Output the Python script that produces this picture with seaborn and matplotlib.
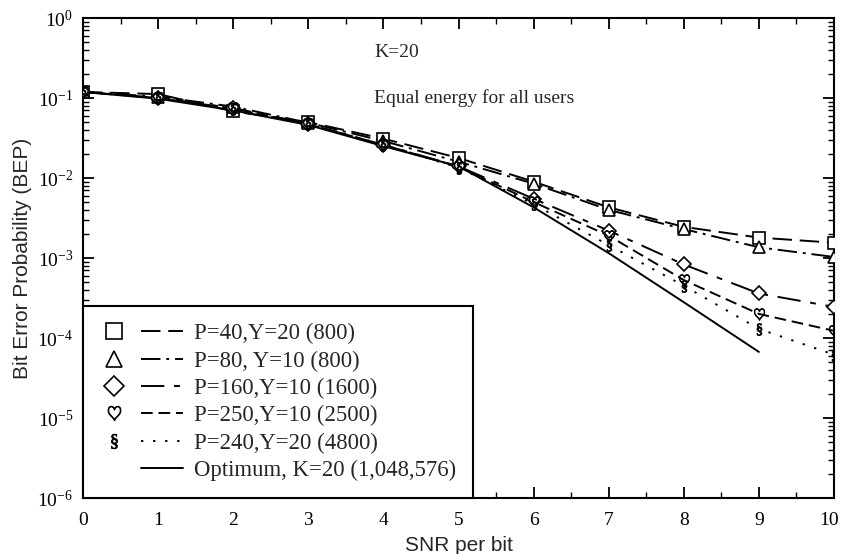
import numpy as np
import pandas as pd
import matplotlib
matplotlib.use("Agg")
import matplotlib.pyplot as plt
import matplotlib.transforms as mtrans
import seaborn as sns
from matplotlib.lines import Line2D
from matplotlib.legend_handler import HandlerBase
from matplotlib.ticker import LogLocator, FixedLocator, NullFormatter, FuncFormatter

# ---- data ----
snr = [0, 1, 2, 3, 4, 5, 6, 7, 8, 9, 10]
bep_p40 = [0.119, 0.112, 0.068, 0.050, 0.031, 0.0178, 0.0090, 0.0043, 0.00245, 0.0018, 0.00155]
bep_p80 = [0.119, 0.104, 0.078, 0.049, 0.029, 0.0160, 0.0085, 0.0040, 0.0023, 0.00136, 0.00103]
bep_p160 = [0.119, 0.100, 0.075, 0.047, 0.026, 0.0140, 0.0055, 0.0022, 0.00083, 0.00036, 0.000245]
bep_p250 = [0.119, 0.100, 0.074, 0.047, 0.026, 0.0138, 0.0050, 0.0019, 0.00053, 0.00020, 0.000123]
bep_p240 = [0.119, 0.100, 0.073, 0.047, 0.026, 0.0135, 0.0047, 0.00145, 0.00045, 0.000130, 0.000062]
snr_opt = [0, 1, 2, 3, 4, 5, 6, 7, 8, 9]
bep_opt = [0.119, 0.098, 0.070, 0.046, 0.025, 0.0140, 0.0043, 0.00115, 0.00028, 0.000067]

labels = ["P=40,Y=20 (800)", "P=80, Y=10 (800)", "P=160,Y=10 (1600)",
          "P=250,Y=10 (2500)", "P=240,Y=20 (4800)", "Optimum, K=20 (1,048,576)"]
xticks = [0, 1, 2, 3, 4, 5, 6, 7, 8, 9, 10]
yticks = [1e-6, 1e-5, 1e-4, 1e-3, 1e-2, 1e-1, 1e0]

sns.set_style("ticks")
plt.rcParams["font.family"] = ["Liberation Serif", "DejaVu Serif"]
plt.rcParams["mathtext.fontset"] = "custom"
plt.rcParams["mathtext.rm"] = "Liberation Serif"
plt.rcParams["mathtext.it"] = "Liberation Serif:italic"

fig = plt.figure(figsize=(8.42, 5.54), dpi=100)
ax = fig.add_axes([83 / 842, 1 - 498 / 554, (834 - 83) / 842, (498 - 18) / 554])

LW = 1.4
series = [
    (bep_p40, snr, "s", (10, 4), 8.5, 1.2),
    (bep_p80, snr, "^", (10, 3, 1.5, 3), 8.5, 1.2),
    (bep_p160, snr, "D", (12, 5, 3, 5), 7.5, 1.2),
    (bep_p250, snr, r"$\heartsuit$", (6, 3), 8.5, 0.6),
    (bep_p240, snr, r"$\S$", (1.2, 5), 8.5, 0.6),
    (bep_opt, snr_opt, None, None, 0, 0),
]


class Entry:
    def __init__(self, marker, ms, mew, dash):
        self.marker, self.ms, self.mew, self.dash = marker, ms, mew, dash


class EntryHandler(HandlerBase):
    def create_artists(self, legend, orig, xdescent, ydescent, width, height, fontsize, trans):
        y = height / 2 - ydescent
        arts = []
        lkw = dict(color="black", linewidth=LW)
        if orig.dash is not None:
            lkw["dashes"] = orig.dash
        ln = Line2D([0.49 * width - xdescent, width - xdescent], [y, y], **lkw)
        ln.set_transform(trans)
        arts.append(ln)
        if orig.marker is not None:
            if orig.marker.startswith("$"):
                mk = Line2D([0.17 * width - xdescent], [y], linestyle="none", marker=orig.marker,
                            markersize=orig.ms + 2, color="black", markeredgewidth=orig.mew)
            else:
                mk = Line2D([0.17 * width - xdescent], [y], linestyle="none", marker=orig.marker,
                            markersize=orig.ms + 3, markerfacecolor="white",
                            markeredgecolor="black", markeredgewidth=orig.mew)
            mk.set_transform(trans)
            arts.append(mk)
        return arts


handles = []
for (vals, xs, mk, dash, ms, mew), lab in zip(series, labels):
    df = pd.DataFrame({"snr": xs, "bep": vals})
    sns.lineplot(data=df, x="snr", y="bep", ax=ax, color="black", linewidth=LW)
    line = ax.get_lines()[-1]
    if dash is not None:
        line.set_dashes(dash)
    if mk is not None:
        if mk.startswith("$"):
            ax.plot(xs, vals, linestyle="none", marker=mk, markersize=ms,
                    color="black", markeredgewidth=mew, zorder=5)
        else:
            ax.plot(xs, vals, linestyle="none", marker=mk, markersize=ms,
                    markerfacecolor="white", markeredgecolor="black",
                    markeredgewidth=mew, zorder=5)
    handles.append(Entry(mk, ms, mew, dash))

ax.set_yscale("log")
ax.set_xlim(0, 10)
ax.set_ylim(1e-6, 1e0)

ax.xaxis.set_major_locator(FixedLocator(xticks))
ax.xaxis.set_minor_locator(FixedLocator(np.arange(0.5, 10, 1.0)))
ax.yaxis.set_major_locator(FixedLocator(yticks))
ax.yaxis.set_minor_locator(LogLocator(base=10, subs=np.arange(2, 10), numticks=20))
ax.yaxis.set_minor_formatter(NullFormatter())
ax.yaxis.set_major_formatter(FuncFormatter(
    lambda v, p: r"$\mathregular{10^{%d}}$" % int(round(np.log10(v)))))
ax.xaxis.set_major_formatter(FuncFormatter(lambda v, p: "%d" % v))

ax.tick_params(which="both", direction="in", top=True, right=True, colors="black",
               labelsize=14)
ax.tick_params(axis="x", which="major", pad=10)
ax.tick_params(axis="y", which="major", pad=7)
ax.tick_params(which="major", length=8, width=1.3)
ax.tick_params(which="minor", length=4, width=1.0)
for s in ax.spines.values():
    s.set_linewidth(1.5)
    s.set_color("black")

ax.set_xlabel("SNR per bit", fontsize=15, family=["Liberation Sans", "DejaVu Sans"], labelpad=5)
ax.set_ylabel("Bit Error Probability (BEP)", fontsize=15,
              family=["Liberation Sans", "DejaVu Sans"], labelpad=4)

ax.text(3.88, 0.37, "K=20", fontsize=14, va="center", ha="left")
ax.text(3.88, 0.10, "Equal energy for all users", fontsize=14, va="center", ha="left")

leg = ax.legend(handles, labels, handler_map={Entry: EntryHandler()},
                loc="lower left", bbox_to_anchor=(0, 0), fontsize=16.4, frameon=True,
                fancybox=False, edgecolor="black", framealpha=1, handlelength=3.64,
                handletextpad=0.48, labelspacing=0.27, borderpad=0.75, borderaxespad=0)
leg.get_frame().set_linewidth(1.5)
leg.set_zorder(10)

# nudge the last x tick label so it stays inside the figure, as in the reference
fig.canvas.draw()
last = ax.get_xticklabels()[-1]
last.set_transform(last.get_transform() + mtrans.ScaledTranslation(-5 / 100, 0, fig.dpi_scale_trans))

fig.savefig("out.png", dpi=100)
